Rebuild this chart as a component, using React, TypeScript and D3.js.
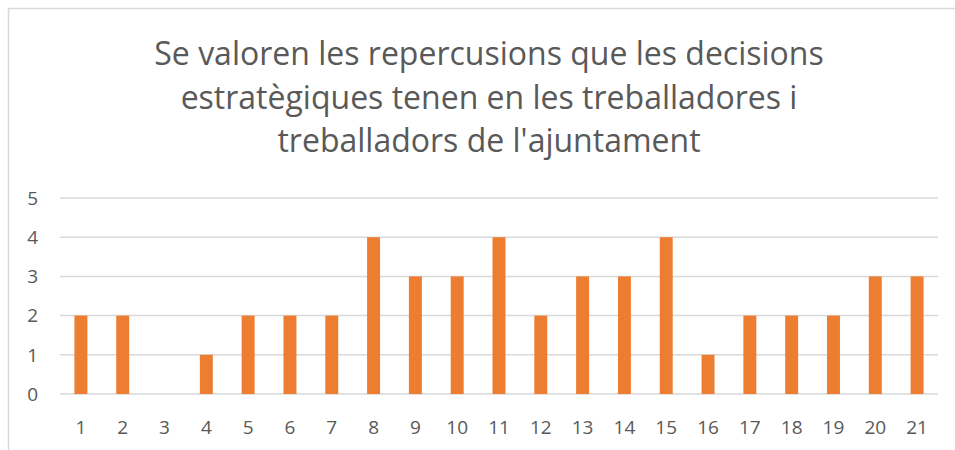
import React from "react";
import * as d3 from "d3";

const titleLines = [
  "Se valoren les repercusions que les decisions",
  "estratègiques tenen en les treballadores i",
  "treballadors de l'ajuntament",
];
const categories = Array.from({ length: 21 }, (_, i) => String(i + 1));
const values = [2, 2, 0, 1, 2, 2, 2, 4, 3, 3, 4, 2, 3, 3, 4, 1, 2, 2, 2, 3, 3];
const yTicks = [0, 1, 2, 3, 4, 5];

const W = 955;
const H = 450;
const plot = { left: 60, right: 938, top: 198, bottom: 394 };
const font = "'Open Sans', 'Noto Sans', sans-serif";
const textColor = "#595959";

export default function App() {
  const x = d3
    .scaleBand<string>()
    .domain(categories)
    .range([plot.left, plot.right])
    .paddingInner(0.69)
    .paddingOuter(0.345);
  const y = d3.scaleLinear().domain([0, 5]).range([plot.bottom, plot.top]);

  return (
    <svg
      width={W}
      height={H}
      style={{ position: "absolute", left: 0, top: 0, background: "#fff" }}
    >
      <rect x={8.5} y={8.5} width={W + 20} height={H + 20} fill="#fff" stroke="#D9D9D9" strokeWidth={1.5} />
      {titleLines.map((t, i) => (
        <text
          key={i}
          x={489}
          y={65 + i * 43.5}
          textAnchor="middle"
          fontFamily={font}
          fontSize={32}
          fill={textColor}
        >
          {t}
        </text>
      ))}
      {yTicks.map((t) => (
        <g key={t}>
          <line
            x1={plot.left}
            x2={plot.right}
            y1={y(t)}
            y2={y(t)}
            stroke="#D9D9D9"
            strokeWidth={1.5}
          />
          <text
            x={38}
            y={y(t)}
            dy="0.36em"
            textAnchor="end"
            fontFamily={font}
            fontSize={19}
            fill={textColor}
          >
            {t}
          </text>
        </g>
      ))}
      {categories.map((c, i) => (
        <rect
          key={c}
          x={x(c)}
          y={y(values[i])}
          width={x.bandwidth()}
          height={y(0) - y(values[i])}
          fill="#ED7D31"
        />
      ))}
      {categories.map((c) => (
        <text
          key={c}
          x={(x(c) as number) + x.bandwidth() / 2}
          y={427}
          dy="0.36em"
          textAnchor="middle"
          fontFamily={font}
          fontSize={19}
          fill={textColor}
        >
          {c}
        </text>
      ))}
    </svg>
  );
}
